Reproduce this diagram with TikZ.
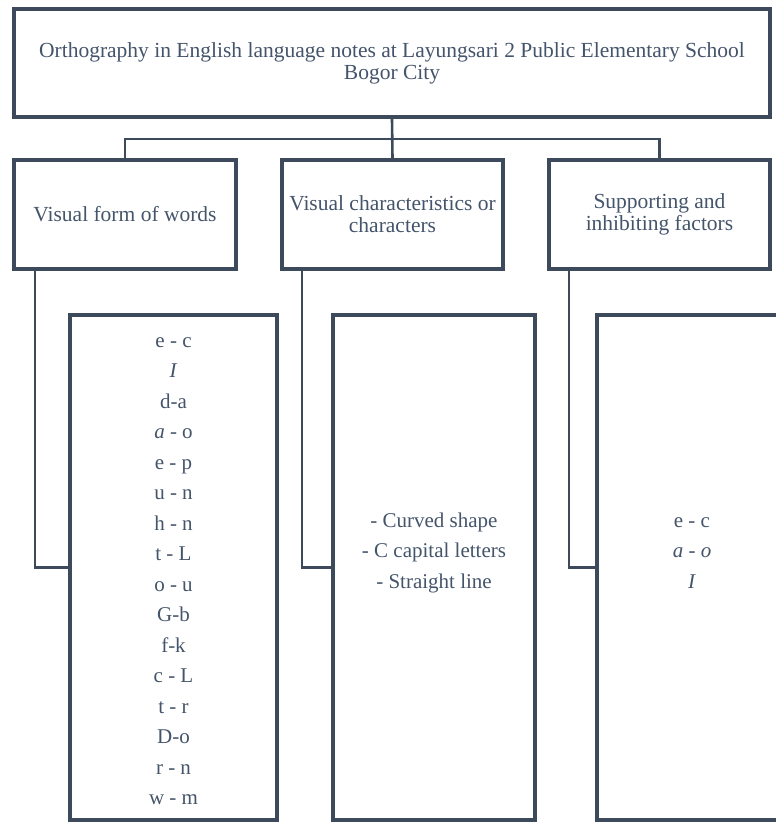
\documentclass[tikz,border=0pt]{standalone}
\usepackage{fontspec}
\setmainfont{Liberation Serif}
\usepackage{xcolor}
\usetikzlibrary{positioning}
\definecolor{framecol}{HTML}{3D4A5B}
\definecolor{textcol}{HTML}{44546A}

\begin{document}
\begin{tikzpicture}[
    x=1pt, y=-1pt,
    box/.style={shape=rectangle, draw=framecol, line width=4pt, align=center, text=textcol,
        inner sep=0pt, font=\fontsize{21.5}{22}\selectfont},
    listbox/.style={shape=rectangle, draw=framecol, line width=4pt, minimum height=505pt, inner sep=0pt},
    listtext/.style={align=center, text=textcol, inner sep=0pt, font=\fontsize{21}{30.5}\selectfont},
    link/.style={draw=framecol, line width=2.6pt}
]
    \useasboundingbox (0,0) rectangle (776,823);

    % Title
    \node[box, minimum width=756pt, minimum height=108pt] (Title) at (392, 63)
        {Orthography in English language notes at Layungsari 2 Public Elementary School\\Bogor City};

    % Aspects
    \node[box, minimum width=222pt, minimum height=109pt] (Form) at (125, 214.5) {Visual form of words};
    \node[box, minimum width=221pt, minimum height=109pt] (Traits) at (392.5, 214.5) {Visual characteristics or\\characters};
    \node[box, minimum width=221pt, minimum height=109pt] (Factors) at (659.5, 214.5) {Supporting and\\inhibiting factors};

    % Findings
    \node[listbox, minimum width=207pt] (FormList) at (173.5, 567.5) {};
    \node[listbox, minimum width=202pt] (TraitsList) at (434, 567.5) {};
    \node[listbox, minimum width=190pt] (FactorsList) at (692, 567.5) {};

    \node[listtext] (FormText) at (173.5, 571) {e - c\\\textit{I}\\d-a\\\textit{a} - o\\e - p\\u - n\\h - n\\t - L\\o - u\\G-b\\f-k\\c - L\\t - r\\D-o\\r - n\\w - m};
    \node[listtext] (TraitsText) at (434, 552.5) {- Curved shape\\- C capital letters\\- Straight line};
    \node[listtext] (FactorsText) at (692, 553) {e - c\\\textit{a - o}\\\textit{I}};

    % Connections
    \draw[link] (Title.south) -- (Traits.north);
    \draw[link] (Title.south) -- ++(0,20) -| (Form.north);
    \draw[link] (Title.south) -- ++(0,20) -| (Factors.north);

    \draw[link] ([xshift=23pt]Form.south west) |- (FormList.west);
    \draw[link] ([xshift=22pt]Traits.south west) |- (TraitsList.west);
    \draw[link] ([xshift=22pt]Factors.south west) |- (FactorsList.west);

\end{tikzpicture}
\end{document}
